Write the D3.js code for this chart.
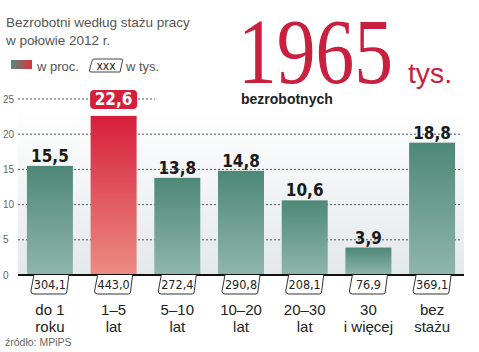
<!DOCTYPE html>
<html><head><meta charset="utf-8">
<script src="https://cdn.jsdelivr.net/npm/d3@7"></script>
<style>
html,body{margin:0;padding:0;background:#fff;}
svg{display:block;}
</style></head>
<body>
<svg id="chart" width="479" height="352"></svg>
<script>
const categories = [["do 1","roku"],["1–5","lat"],["5–10","lat"],["10–20","lat"],["20–30","lat"],["30","i więcej"],["bez","stażu"]];
const percentValues = [15.5, 22.6, 13.8, 14.8, 10.6, 3.9, 18.8];
const thousandsValues = ["304,1","443,0","272,4","290,8","208,1","76,9","369,1"];
const percentLabels = ["15,5","22,6","13,8","14,8","10,6","3,9","18,8"];
const yTicks = [0,5,10,15,20,25];
const highlightIndex = 1;

const svg = d3.select("#chart");
const defs = svg.append("defs");
function grad(id, c1, c2, horiz){
  const g = defs.append("linearGradient").attr("id", id)
    .attr("x1",0).attr("y1",0).attr("x2",horiz?1:0).attr("y2",horiz?0:1);
  g.append("stop").attr("offset","0%").attr("stop-color",c1);
  g.append("stop").attr("offset","100%").attr("stop-color",c2);
}
grad("gGreen","#4d8876","#90b6ac");
grad("gRed","#d71f3c","#eb8d83");
grad("gBg","#ffffff","#e3e8ea");
grad("gLeg","#4f8c78","#e2303f",true);

const x = d3.scaleBand().domain(d3.range(categories.length)).range([18,464]).paddingInner(0.278).paddingOuter(0.14);
const y = d3.scaleLinear().domain([0,25]).range([275,99]);
const condensed = "DejaVu Sans Condensed, Liberation Sans Narrow, sans-serif";
const tf = "Liberation Sans, Arial, sans-serif";

// background panel
svg.append("rect").attr("x",18).attr("y",108).attr("width",446).attr("height",y(0)-108).attr("fill","url(#gBg)");

// grid (top line only spans the left part, as in the original)
svg.append("g").selectAll("line").data(yTicks.filter(d=>d>0)).join("line")
  .attr("x1",18).attr("x2",d=>d===25?155:462).attr("y1",d=>y(d)).attr("y2",d=>y(d))
  .attr("stroke","#555").attr("stroke-width",1).attr("stroke-dasharray","2,2");

// y tick labels
svg.append("g").selectAll("text").data(yTicks).join("text")
  .attr("x",3).attr("y",d=>y(d)+3.5).text(d=>d)
  .attr("font-family",tf).attr("font-size",10).attr("fill","#666");

// bars
svg.append("g").selectAll("rect").data(percentValues).join("rect")
  .attr("x",(d,i)=>x(i)).attr("width",x.bandwidth())
  .attr("y",d=>y(d)).attr("height",d=>y(0)-y(d))
  .attr("fill",(d,i)=>i===highlightIndex?"url(#gRed)":"url(#gGreen)");

// value labels
const vl = svg.append("g");
percentValues.forEach((d,i)=>{
  const cx = x(i)+x.bandwidth()/2;
  if(i===highlightIndex){
    vl.append("rect").attr("x",cx-23.5).attr("y",y(d)-26).attr("width",47).attr("height",19).attr("rx",4)
      .attr("fill","#d71f3c");
    vl.append("text").attr("x",cx).attr("y",y(d)-10.5).attr("text-anchor","middle")
      .attr("font-family",condensed).attr("font-weight","bold")
      .attr("font-size",17).attr("fill","#fff").text(percentLabels[i]);
  } else {
    vl.append("text").attr("x",cx).attr("y",y(d)-4).attr("text-anchor","middle")
      .attr("font-family",condensed).attr("font-weight","bold")
      .attr("font-size",17).attr("fill","#1a1a1a").text(percentLabels[i]);
  }
});

// baseline
svg.append("line").attr("x1",18).attr("x2",464).attr("y1",y(0)).attr("y2",y(0)).attr("stroke","#111").attr("stroke-width",2);

// thousand boxes
const tb = svg.append("g");
thousandsValues.forEach((v,i)=>{
  const cx = x(i)+x.bandwidth()/2;
  const x0 = cx-19, x1 = cx+18, t = y(0), b = y(0)+19;
  const p = `M${x0+3},${t} L${x0},${b-3} Q${x0},${b} ${x0+3},${b} L${x1-3},${b} Q${x1-1},${b} ${x1-1},${b-3} L${x1+1},${t}`;
  tb.append("path").attr("d",p).attr("fill","#fff").attr("stroke","#333").attr("stroke-width",1);
  tb.append("text").attr("x",cx).attr("y",t+14).attr("text-anchor","middle")
    .attr("font-family",condensed)
    .attr("font-size",12.5).attr("fill","#222").text(v);
});

// category labels
const cl = svg.append("g");
categories.forEach((c,i)=>{
  const cx = x(i)+x.bandwidth()/2;
  c.forEach((line,k)=>{
    cl.append("text").attr("x",cx).attr("y",315+k*17).attr("text-anchor","middle")
      .attr("font-family",tf).attr("font-size",15).attr("fill","#222").text(line);
  });
});

// source
svg.append("text").attr("x",5).attr("y",346).text("źródło: MPiPS")
  .attr("font-family",tf).attr("font-size",10.5).attr("fill","#666");

// title
svg.append("text").attr("x",6).attr("y",27).text("Bezrobotni według stażu pracy").attr("font-family",tf).attr("font-size",13.5).attr("fill","#555");
svg.append("text").attr("x",6).attr("y",45).text("w połowie 2012 r.").attr("font-family",tf).attr("font-size",13.5).attr("fill","#555");

// legend
svg.append("rect").attr("x",11).attr("y",60).attr("width",21).attr("height",9).attr("fill","url(#gLeg)");
svg.append("text").attr("x",37).attr("y",71).text("w proc.").attr("font-family",tf).attr("font-size",13).attr("fill","#555");
svg.append("path").attr("d","M94,59 L121,59 Q123,59 122.5,61 L120,72 L91,72 Q89,72 89.5,70 L92,61 Q92.5,59 94,59 Z")
  .attr("fill","#fff").attr("stroke","#444").attr("stroke-width",1);
svg.append("text").attr("x",106).attr("y",69.5).attr("text-anchor","middle").text("xxx")
  .attr("font-family",condensed).attr("font-size",12).attr("fill","#222");
svg.append("text").attr("x",126).attr("y",71).text("w tys.").attr("font-family",tf).attr("font-size",13).attr("fill","#555");

// big number
svg.append("text").attr("x",238).attr("y",83).text("1965")
  .attr("font-family","Liberation Serif, Times New Roman, serif").attr("font-size",93)
  .attr("textLength",155).attr("lengthAdjust","spacingAndGlyphs").attr("fill","#c8203e");
svg.append("text").attr("x",408).attr("y",83).text("tys.")
  .attr("font-family",tf).attr("font-size",28).attr("fill","#c8203e")
  .attr("textLength",44).attr("lengthAdjust","spacingAndGlyphs");
svg.append("text").attr("x",241).attr("y",104).text("bezrobotnych")
  .attr("font-family",tf).attr("font-weight","bold").attr("font-size",14).attr("fill","#222");
</script>
</body></html>
